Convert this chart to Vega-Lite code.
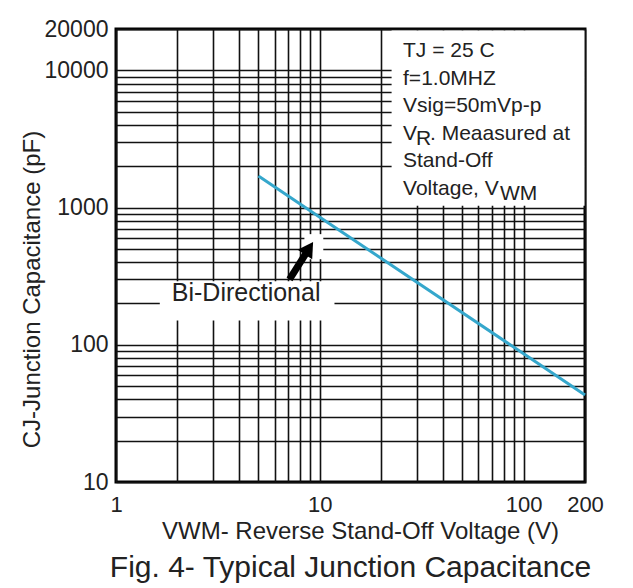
{
  "$schema": "https://vega.github.io/schema/vega-lite/v6.json",
  "width": 469,
  "height": 453,
  "autosize": "none",
  "padding": {"left": 116, "top": 29, "right": 48, "bottom": 106},
  "background": "white",
  "config": {
    "view": {"stroke": "black", "strokeWidth": 3},
    "font": "Liberation Sans",
    "text": {"font": "Liberation Sans", "color": "#222"}
  },
  "title": {
    "text": "Fig. 4- Typical Junction Capacitance",
    "orient": "bottom",
    "anchor": "middle",
    "frame": "group",
    "fontSize": 30,
    "fontWeight": "normal",
    "color": "#222",
    "font": "Liberation Sans",
    "offset": 10
  },
  "data": {"values": [{}]},
  "datasets": {
    "curve": [
      {"v": 5, "c": 1700},
      {"v": 10, "c": 850},
      {"v": 100, "c": 86},
      {"v": 200, "c": 43}
    ]
  },
  "encoding": {
    "x": {
      "type": "quantitative",
      "scale": {"type": "log", "domain": [1, 200]},
      "axis": {
        "values": [1, 2, 3, 4, 5, 6, 7, 8, 9, 10, 20, 30, 40, 50, 60, 70, 80, 90, 100, 200],
        "format": "d",
        "labelExpr": "(datum.value == 1 || datum.value == 10 || datum.value == 100 || datum.value == 200) ? datum.label : ''",
        "grid": true,
        "gridColor": "#111",
        "gridWidth": 1.6,
        "gridOpacity": 1,
        "ticks": false,
        "domain": false,
        "labelFontSize": 22,
        "labelColor": "#222",
        "labelPadding": 12,
        "labelOverlap": false,
        "labelBound": false,
        "labelFlush": false,
        "title": "VWM- Reverse Stand-Off Voltage (V)",
        "titleFontSize": 24,
        "titleFontWeight": "normal",
        "titleColor": "#222",
        "titleBaseline": "alphabetic",
        "titleY": 56,
        "titleX": 244
      }
    },
    "y": {
      "type": "quantitative",
      "scale": {"type": "log", "domain": [10, 20000]},
      "axis": {
        "values": [10, 20, 30, 40, 50, 60, 70, 80, 90, 100, 200, 300, 400, 500, 600, 700, 800, 900, 1000, 2000, 3000, 4000, 5000, 6000, 7000, 8000, 9000, 10000, 20000],
        "format": "d",
        "labelExpr": "(datum.value == 10 || datum.value == 100 || datum.value == 1000 || datum.value == 10000 || datum.value == 20000) ? datum.label : ''",
        "grid": true,
        "gridColor": "#111",
        "gridWidth": 1.6,
        "gridOpacity": 1,
        "ticks": false,
        "domain": false,
        "labelFontSize": 23,
        "labelColor": "#222",
        "labelPadding": 8,
        "labelOverlap": false,
        "labelBound": false,
        "labelFlush": false,
        "title": "CJ-Junction Capacitance (pF)",
        "titleFontSize": 24,
        "titleFontWeight": "normal",
        "titleColor": "#222",
        "titleAngle": 270,
        "titleBaseline": "middle",
        "titleAlign": "center",
        "titleX": -84,
        "titleY": 260
      }
    }
  },
  "layer": [
    {
      "mark": {"type": "rect", "fill": "white"},
      "encoding": {
        "x": {"datum": 22.5},
        "x2": {"datum": 199},
        "y": {"datum": 1030},
        "y2": {"datum": 19500}
      }
    },
    {
      "mark": {"type": "rect", "fill": "white"},
      "encoding": {
        "x": {"datum": 1.64},
        "x2": {"datum": 11.8},
        "y": {"datum": 150},
        "y2": {"datum": 290}
      }
    },
    {
      "mark": {"type": "rect", "fill": "white"},
      "encoding": {
        "x": {"datum": 8.4},
        "x2": {"datum": 10.4},
        "y": {"datum": 420},
        "y2": {"datum": 640}
      }
    },
    {
      "data": {"name": "curve"},
      "mark": {"type": "line", "color": "#35a7cc", "strokeWidth": 3},
      "encoding": {
        "x": {"field": "v"},
        "y": {"field": "c"}
      }
    },
    {
      "mark": {"type": "rule", "color": "black", "strokeWidth": 7},
      "encoding": {
        "x": {"datum": 7.1},
        "x2": {"datum": 8.6},
        "y": {"datum": 300},
        "y2": {"datum": 470}
      }
    },
    {
      "mark": {"type": "point", "shape": "triangle-up", "filled": true, "color": "black", "opacity": 1, "size": 300, "angle": 33},
      "encoding": {
        "x": {"datum": 8.85},
        "y": {"datum": 505}
      }
    },
    {
      "mark": {"type": "text", "text": "Bi-Directional", "fontSize": 25, "align": "center", "baseline": "alphabetic", "dy": -2},
      "encoding": {
        "x": {"datum": 4.35},
        "y": {"datum": 200}
      }
    },
    {
      "mark": {"type": "text", "text": "TJ = 25 C", "fontSize": 21, "align": "left", "baseline": "alphabetic"},
      "encoding": {"x": {"datum": 25.6}, "y": {"datum": 12500}}
    },
    {
      "mark": {"type": "text", "text": "f=1.0MHZ", "fontSize": 21, "align": "left", "baseline": "alphabetic", "dy": 27.6},
      "encoding": {"x": {"datum": 25.6}, "y": {"datum": 12500}}
    },
    {
      "mark": {"type": "text", "text": "Vsig=50mVp-p", "fontSize": 21, "align": "left", "baseline": "alphabetic", "dy": 55.2},
      "encoding": {"x": {"datum": 25.6}, "y": {"datum": 12500}}
    },
    {
      "mark": {"type": "text", "text": "V", "fontSize": 21, "align": "left", "baseline": "alphabetic", "dy": 82.8},
      "encoding": {"x": {"datum": 25.6}, "y": {"datum": 12500}}
    },
    {
      "mark": {"type": "text", "text": "R", "fontSize": 21, "align": "left", "baseline": "alphabetic", "dx": 13, "dy": 88},
      "encoding": {"x": {"datum": 25.6}, "y": {"datum": 12500}}
    },
    {
      "mark": {"type": "text", "text": ". Meaasured at", "fontSize": 21, "align": "left", "baseline": "alphabetic", "dx": 27, "dy": 82.8},
      "encoding": {"x": {"datum": 25.6}, "y": {"datum": 12500}}
    },
    {
      "mark": {"type": "text", "text": "Stand-Off", "fontSize": 21, "align": "left", "baseline": "alphabetic", "dy": 110.4},
      "encoding": {"x": {"datum": 25.6}, "y": {"datum": 12500}}
    },
    {
      "mark": {"type": "text", "text": "Voltage, V", "fontSize": 21, "align": "left", "baseline": "alphabetic", "dy": 138},
      "encoding": {"x": {"datum": 25.6}, "y": {"datum": 12500}}
    },
    {
      "mark": {"type": "text", "text": "WM", "fontSize": 21, "align": "left", "baseline": "alphabetic", "dx": 97, "dy": 143},
      "encoding": {"x": {"datum": 25.6}, "y": {"datum": 12500}}
    }
  ]
}
